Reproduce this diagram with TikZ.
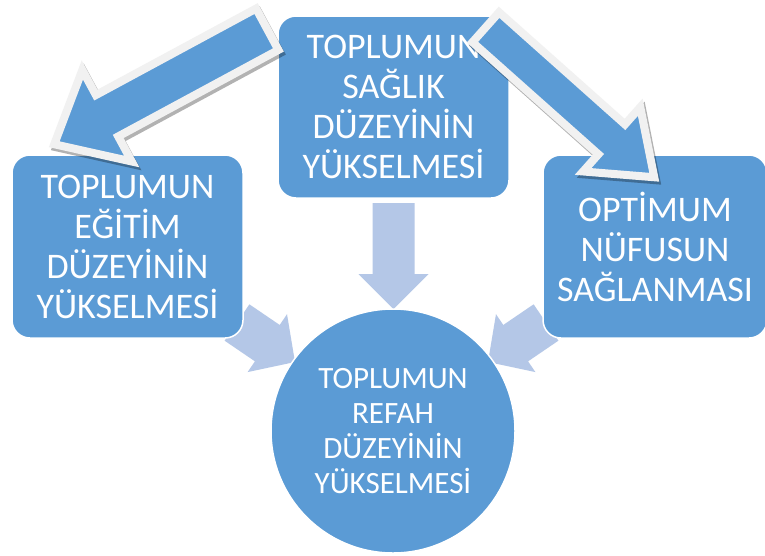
\documentclass[tikz,border=0pt]{standalone}
\usepackage{fontspec}
\setmainfont{Carlito}
\usetikzlibrary{calc}
\definecolor{kutumavi}{RGB}{91,155,213}
\definecolor{okacik}{RGB}{180,199,231}
\definecolor{cerceve}{RGB}{241,241,241}
\newcommand\blokok[6][]{%
	\coordinate (ok-h) at ($(#3)!#6!(#2)$);
	\path[#1] ($(#2)!#4!90:(#3)$) -- ($(ok-h)!#4!90:(#3)$) -- ($(ok-h)!#5!90:(#3)$) -- (#3)
		-- ($(ok-h)!#5!-90:(#3)$) -- ($(ok-h)!#4!-90:(#3)$) -- ($(#2)!#4!-90:(#3)$) -- cycle;
}
\begin{document}
\begin{tikzpicture}[
	x=1pt,y=-1pt,
	kutu/.style={rectangle,fill=kutumavi,draw=white,line width=1.5pt,rounded corners=18pt,
		text=white,align=center,font=\fontsize{36}{40}\selectfont},
	daire/.style={circle,fill=kutumavi,draw=white,line width=1.5pt,
		text=white,align=center,font=\fontsize{31}{35}\selectfont},
	acikok/.style={fill=okacik},
	buyukok/.style={fill=kutumavi,draw=cerceve,line width=8pt,line join=miter,
		preaction={draw=black,draw opacity=.3,line width=8pt,transform canvas={shift={(2pt,-3pt)}}}}
	]
	\useasboundingbox (0,0) rectangle (765,555);
	\fill[white] (0,0) rectangle (765,555);
	\blokok[acikok]{237,322.5}{295,362}{22pt}{35pt}{33.5pt}
	\blokok[acikok]{546,322.5}{488,362}{22pt}{35pt}{33.5pt}
	\blokok[acikok]{393.5,203}{393.5,309}{21pt}{35pt}{35pt}
	\node[kutu,minimum width=231pt,minimum height=182pt] (saglik) at (393.5,107) {TOPLUMUN\\SAĞLIK\\DÜZEYİNİN\\YÜKSELMESİ};
	\node[kutu,minimum width=231pt,minimum height=183pt] (egitim) at (127.5,246.5) {TOPLUMUN\\EĞİTİM\\DÜZEYİNİN\\YÜKSELMESİ};
	\node[kutu,minimum width=224pt,minimum height=183pt] (nufus) at (655,246.5) {OPTİMUM\\NÜFUSUN\\SAĞLANMASI};
	\node[daire,minimum size=244pt] (refah) at (393,431) {TOPLUMUN\\REFAH\\DÜZEYİNİN\\YÜKSELMESİ};
	\coordinate (sol-kuyruk) at ($(saglik.north west)+(-10,14)$);
	\coordinate (sol-uc) at ($(egitim.north west)+(43,-10)$);
	\coordinate (sag-kuyruk) at ($(saglik.north east)+(-24,12)$);
	\coordinate (sag-uc) at ($(nufus.north west)+(112,23)$);
	\blokok[buyukok]{sol-kuyruk}{sol-uc}{23.5pt}{52pt}{60pt}
	\blokok[buyukok]{sag-kuyruk}{sag-uc}{20pt}{43pt}{57pt}
\end{tikzpicture}
\end{document}
